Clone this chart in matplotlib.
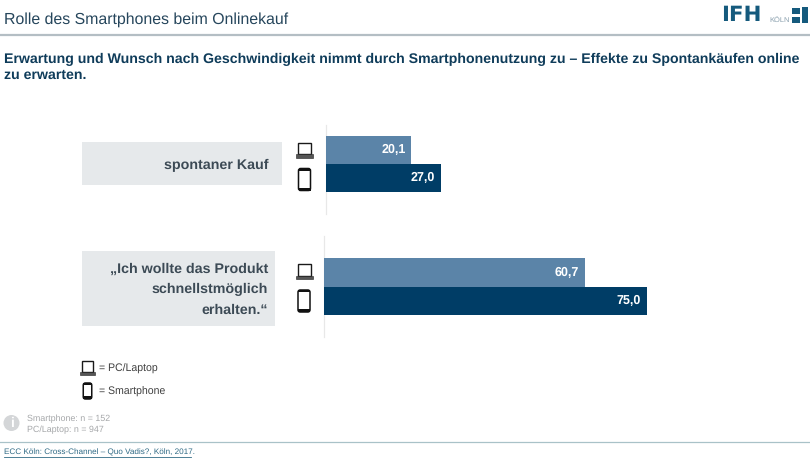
import matplotlib
matplotlib.use("Agg")
import matplotlib.pyplot as plt
from matplotlib.patches import Rectangle, FancyBboxPatch, Circle

plt.rcParams['font.family'] = ['Liberation Sans', 'DejaVu Sans']
plt.rcParams['text.hinting'] = 'none'

categories = ["spontaner Kauf", "„Ich wollte das Produkt\nschnellstmöglich\nerhalten.“"]
series_names = ["PC/Laptop", "Smartphone"]
pc_values = [20.1, 60.7]
phone_values = [27.0, 75.0]
value_labels_pc = ["20,1", "60,7"]
value_labels_phone = ["27,0", "75,0"]
notes = ["Smartphone: n = 152", "PC/Laptop: n = 947"]
source = "ECC Köln: Cross-Channel – Quo Vadis?, Köln, 2017."
title = "Rolle des Smartphones beim Onlinekauf"
headline = "Erwartung und Wunsch nach Geschwindigkeit nimmt durch Smartphonenutzung zu – Effekte zu Spontankäufen online\nzu erwarten."

C_PC = "#5b84a8"
C_PH = "#003d66"
NAVY = "#0f3c5a"
LOGO = "#155a7d"
W, H = 810, 463
fig = plt.figure(figsize=(W/100, H/100), dpi=100, facecolor="white")

# page overlay in pixel coordinates
bg = fig.add_axes([0, 0, 1, 1])
bg.set_xlim(0, W); bg.set_ylim(H, 0); bg.axis("off")

bg.text(4, 20, title, fontsize=11.4, color="#26465c", va="center", ha="left")
bg.plot([0, 810], [34.5, 34.5], color="#b4bec4", lw=1.6)
bg.text(4, 67, headline, fontsize=10.2, fontweight="bold", color=NAVY, va="center", ha="left", linespacing=1.27)
bg.plot([0, 810], [441.5, 441.5], color="#a9c2c8", lw=0.9)
bg.text(4, 452.5, source, fontsize=5.9, color="#2f6a85", va="center", ha="left")
bg.plot([4, 191], [457, 457], color="#2f6a85", lw=0.6)

# logo
bg.text(721, 15, "IFH", fontsize=15.4, fontweight="bold", family="DejaVu Sans", color=LOGO, va="center", ha="left")
bg.text(769, 20, "KÖLN", fontsize=5.4, color="#8aa0ae", va="center", ha="left")
bg.add_patch(Rectangle((792, 8), 8, 5.5, color=LOGO, lw=0))
bg.add_patch(Rectangle((792, 17), 8, 6, color=LOGO, lw=0))
bg.add_patch(Rectangle((802, 7), 6, 16, color=LOGO, lw=0))

# category boxes
bg.add_patch(Rectangle((82, 142), 200, 43, color="#e6e9eb", lw=0))
bg.add_patch(Rectangle((82, 251), 193, 75, color="#e6e9eb", lw=0))
bg.text(268, 165, categories[0], fontsize=10.3, fontweight="bold", color="#3c4a55", ha="right", va="center")
bg.text(268, 289.5, categories[1], fontsize=10.3, fontweight="bold", color="#3c4a55", ha="right", va="center", linespacing=1.72, multialignment="right")


def laptop(cx, cy, s=1.0):
    bg.add_patch(Rectangle((cx-6.5*s, cy-7.5*s), 13*s, 11.5*s, fc="white", ec="#1a1a1a", lw=1.0))
    bg.add_patch(Rectangle((cx-8.5*s, cy+4*s), 17*s, 3.5*s, fc="#555555", ec="#222222", lw=0.4))


def phone(cx, cy, w=12.0, h=22.0):
    bg.add_patch(FancyBboxPatch((cx-w/2, cy-h/2), w, h, boxstyle="round,pad=0,rounding_size=2.2",
                                fc="white", ec="#111111", lw=1.1))
    bg.add_patch(Rectangle((cx-w/2, cy-h/2), w, 2.2, color="#111111", lw=0))
    bg.add_patch(Rectangle((cx-w/2, cy+h/2-3), w, 3, color="#111111", lw=0))


laptop(304.5, 150); phone(304.5, 179.5)
laptop(304, 271.5); phone(304, 301)
laptop(87.5, 368, 0.88); phone(87.5, 391, 8.5, 16)
bg.text(99, 368.5, "= " + series_names[0], fontsize=7.6, color="#404040", va="center")
bg.text(99, 392, "= " + series_names[1], fontsize=7.6, color="#404040", va="center")

# info icon and notes
bg.add_patch(Circle((11.5, 423), 8, color="#d4d6d8", lw=0))
bg.text(11.5, 423, "i", fontsize=10, fontweight="bold", color="white", ha="center", va="center")
bg.text(27, 418.5, notes[0], fontsize=6.4, color="#a6a8aa", va="center")
bg.text(27, 429.5, notes[1], fontsize=6.4, color="#a6a8aa", va="center")


def panel(i, x0, scale, top, bot, line_top, line_bot):
    """one bar group on its own axis: x0 and scale are px, top/bot the bar span"""
    bg.plot([x0, x0], [line_top, line_bot], color="#e8e8e8", lw=0.9)
    ax = fig.add_axes([x0/W, 1-bot/H, (W-x0-10)/W, (bot-top)/H])
    ax.set_xlim(0, (W-x0-10)/scale)
    ax.set_ylim(1, -1)
    ax.axis("off")
    ax.patch.set_alpha(0)
    ax.barh([-0.5], [pc_values[i]], height=1, color=C_PC, lw=0)
    ax.barh([0.5], [phone_values[i]], height=1, color=C_PH, lw=0)
    pad = 6 / scale
    ax.text(pc_values[i]-pad, -0.5, value_labels_pc[i], color="white", fontweight="bold", fontsize=9, ha="right", va="center")
    ax.text(phone_values[i]-pad, 0.5, value_labels_phone[i], color="white", fontweight="bold", fontsize=9, ha="right", va="center")


panel(0, 326, 4.25, 136, 192, 125, 214)
panel(1, 323.5, 4.31, 258, 315, 236, 337)

fig.savefig("out.png", dpi=100)
